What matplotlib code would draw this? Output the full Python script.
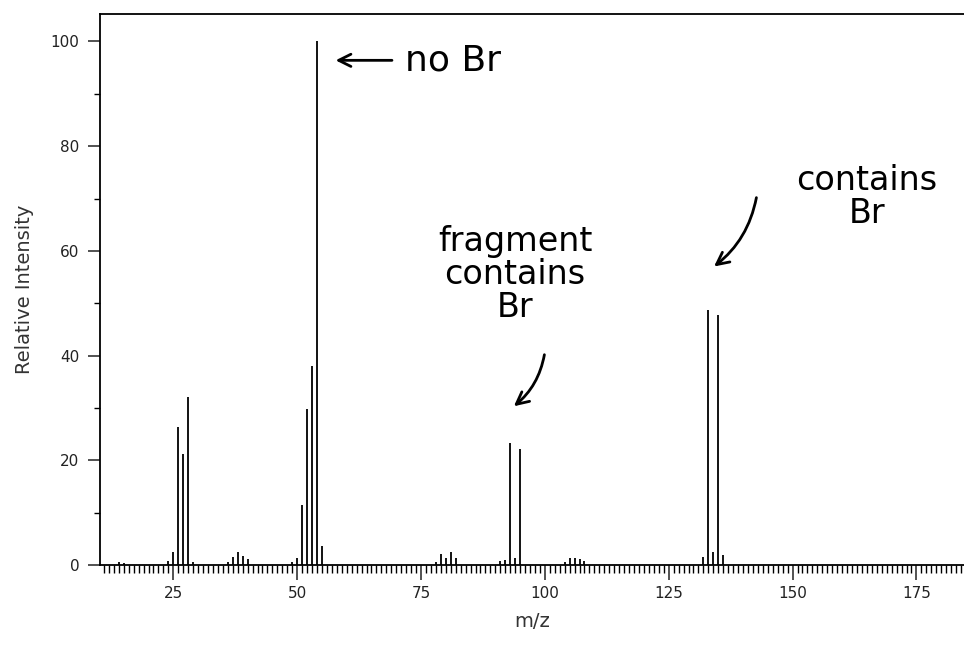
"""
Mass spectrum of a bromo compound with hand-written notes.
"""

import matplotlib.pyplot as plt
from matplotlib.ticker import MultipleLocator

# Peak list
mz = [14, 15, 24, 25, 26, 27, 28, 29,
      36, 37, 38, 39, 40,
      49, 50, 51, 52, 53, 54, 55,
      78, 79, 80, 81, 82,
      91, 92, 93, 94, 95,
      104, 105, 106, 107, 108,
      132, 133, 134, 135, 136]
intensity = [0.6, 0.4, 0.7, 2.5, 26.3, 21.3, 32.1, 0.6,
             0.5, 1.5, 2.5, 1.7, 1.1,
             0.5, 1.3, 11.5, 29.9, 38.0, 100.0, 3.6,
             0.5, 2.2, 1.4, 2.4, 1.4,
             0.8, 1.0, 23.3, 1.4, 22.2,
             0.5, 1.3, 1.3, 1.1, 0.7,
             1.5, 48.8, 2.5, 47.7, 2.0]

x_major = [25, 50, 75, 100, 125, 150, 175]
y_major = [0, 20, 40, 60, 80, 100]

fig = plt.figure(figsize=(9.64, 6.48), dpi=100)
ax = fig.add_axes([0.1037, 0.128, 0.8963, 0.850])

# Stick spectrum
ax.vlines(mz, 0, intensity, color='black', linewidth=1.3)

ax.set_xlim(10.2, 184.6)
ax.set_ylim(0, 105.2)

ax.set_xticks(x_major)
ax.set_yticks(y_major)
ax.xaxis.set_minor_locator(MultipleLocator(1))
ax.yaxis.set_minor_locator(MultipleLocator(10))
ax.tick_params(axis='x', which='major', length=11, width=1.1, pad=4,
               labelsize=11, colors='#222222')
ax.tick_params(axis='x', which='minor', length=6, width=1.0)
ax.tick_params(axis='y', which='major', length=9, width=1.1, pad=6,
               labelsize=11, colors='#222222')
ax.tick_params(axis='y', which='minor', length=4, width=1.0)

for side in ['left', 'top', 'bottom']:
    ax.spines[side].set_linewidth(1.3)
ax.spines['right'].set_visible(False)

ax.set_xlabel('m/z', fontsize=14, color='#333333', labelpad=8)
ax.set_ylabel('Relative Intensity', fontsize=14, color='#333333', labelpad=12)

# Hand-written notes
note = dict(fontsize=24, color='black', family='DejaVu Sans')
arrow = dict(arrowstyle='->', color='black', linewidth=2, mutation_scale=22)

ax.annotate('', xy=(57.2, 96.4), xytext=(69.7, 96.4), arrowprops=arrow)
ax.text(71.8, 96.4, 'no Br', ha='left', va='center', fontsize=26,
        color='black', family='DejaVu Sans')

ax.text(94.0, 55.4, 'fragment\ncontains\nBr', ha='center', va='center',
        linespacing=1.0, **note)
ax.annotate('', xy=(93.3, 30.0), xytext=(100.0, 40.7),
            arrowprops=dict(arrow, connectionstyle='arc3,rad=-0.2'))

ax.text(165.0, 70.3, 'contains\nBr', ha='center', va='center',
        linespacing=1.0, **note)
ax.annotate('', xy=(133.7, 56.7), xytext=(142.8, 70.7),
            arrowprops=dict(arrow, connectionstyle='arc3,rad=-0.2'))

fig.savefig('out.png', dpi=100)
